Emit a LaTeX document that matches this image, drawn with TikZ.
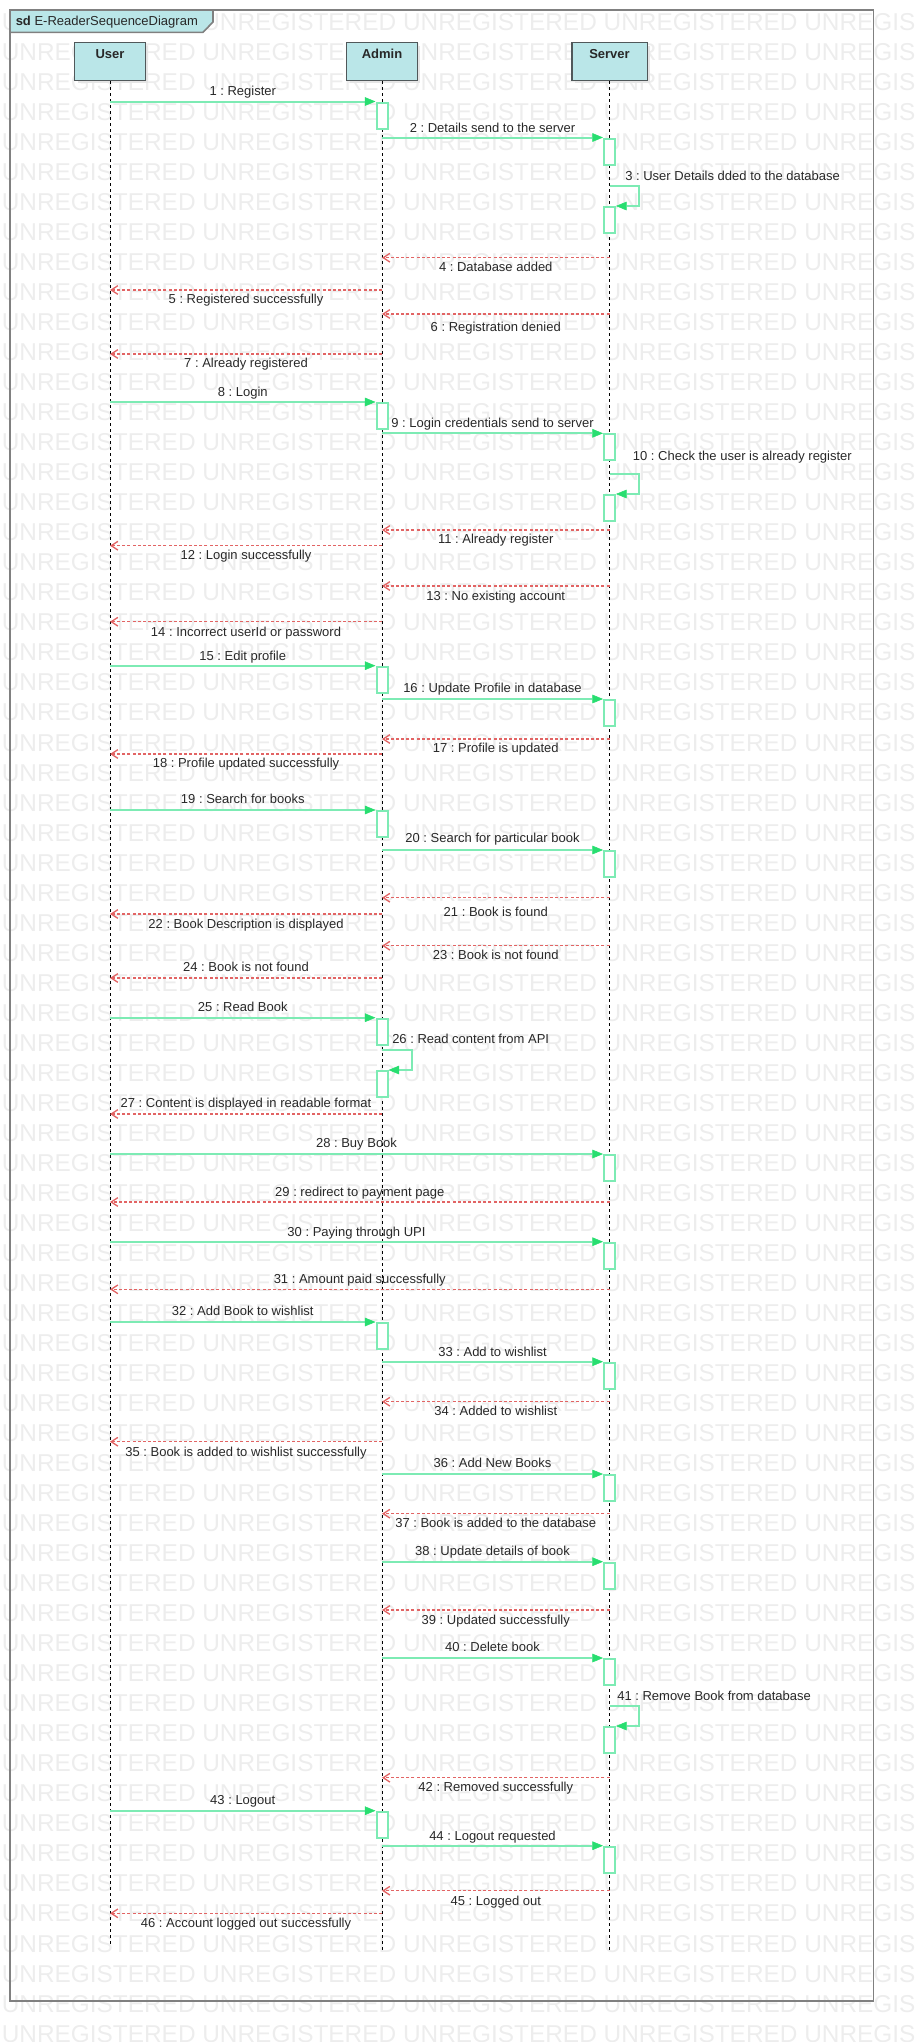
\documentclass[tikz,border=0pt]{standalone}
\usepackage{fontspec}
\setmainfont{Liberation Sans}
\usetikzlibrary{arrows.meta,calc,shadows}
\frenchspacing
\definecolor{mint}{RGB}{125,235,180}
\definecolor{tipgreen}{RGB}{40,222,112}
\definecolor{retred}{RGB}{226,100,100}
\definecolor{hdrfill}{RGB}{186,230,232}
\definecolor{hdrline}{RGB}{80,88,90}
\definecolor{framegray}{RGB}{128,128,128}
\definecolor{wmgray}{RGB}{237,237,237}
\definecolor{txt}{RGB}{40,40,40}
\tikzset{
  hdr/.style={draw=hdrline, line width=1.1pt, fill=hdrfill, anchor=north,
    minimum width=53pt, minimum height=28.15pt, inner sep=0pt,
    text height=7.5pt, text depth=11.8pt, text=txt,
    font=\bfseries\fontsize{9.75pt}{11pt}\selectfont,
    drop shadow={shadow xshift=2.25pt, shadow yshift=-2.25pt, fill=black!10, opacity=1}},
  lifeline/.style={draw=black, line width=0.75pt, dash pattern=on 2.25pt off 2.25pt},
  act/.style={draw=mint, fill=white, line width=1.5pt, minimum width=8.25pt,
    minimum height=19.5pt, inner sep=0pt, anchor=north},
  msg/.style={draw=mint, line width=1.5pt,
    -{Triangle[length=8pt,width=6.5pt,color=tipgreen,line width=0.4pt]}},
  ret/.style={draw=retred, line width=1pt, dash pattern=on 2.25pt off 1.6pt,
    -{Straight Barb[length=5pt,width=6.5pt,line width=1pt]}},
  lbl/.style={inner sep=0pt, text height=7pt, text depth=0pt, text=txt,
    font=\fontsize{9.75pt}{11pt}\selectfont},
  wm/.style={inner sep=0pt, text=wmgray, font=\fontsize{18.3pt}{20pt}\selectfont,
    anchor=base west},
}
\newcommand\SyncMsg[6]{%
  \node[act] (m#1) at (#3 |- 0,#4) {};
  \draw[msg] (#2 |- 0,#4) -- (m#1.north west);
  \node[lbl] (t#1) at ($(#2 |- 0,#5)!.5!(m#1.north west |- 0,#5)$) {#6};
}
\newcommand\RetMsg[6]{%
  \draw[ret] (#2 |- 0,#4) -- (#3 |- 0,#4);
  \node[lbl] (t#1) at ($(#2 |- 0,#5)!.5!(#3 |- 0,#5)$) {#6};
}
\newcommand\SelfMsg[7]{%
  \node[act] (m#1) at (#2 |- 0,#4) {};
  \draw[msg] (#2 |- 0,#3) -- ++(29.5,0) |- (m#1.north east);
  \node[lbl, anchor=west] (t#1) at (#5,#6) {#7};
}
\begin{document}
\begin{tikzpicture}[x=0.75pt,y=-0.75pt]
\useasboundingbox (0,0) rectangle (914,2042);
% watermark
\begin{scope}
  \clip (0,0) rectangle (914,2042);
  \foreach \k in {0,...,67}
    \node[wm] (w\k) at (1.5,{30.4+30.025*\k}) {UNREGISTERED UNREGISTERED UNREGISTERED UNREGISTERED UNREGISTERED};
\end{scope}
% frame
\draw[framegray, line width=1.2pt] (10,10) rectangle (873.5,2001);
\draw[framegray, line width=1.2pt, fill=hdrfill] (10,10) -- (213,10) -- (213,22) -- (203,32.3) -- (10,32.3) -- cycle;
\node[anchor=base west, inner sep=0pt, text=txt, font=\fontsize{9.75pt}{11pt}\selectfont] (title) at (15.5,25.3) {\textbf{sd} E-ReaderSequenceDiagram};
% lifeline heads
\node[hdr] (user) at (110,42) {User};
\node[hdr] (admin) at (382,42) {Admin};
\node[hdr, minimum width=56.6pt] (server) at (609.5,42) {Server};
% lifelines
\draw[lifeline] (user.south) -- (user |- 0,1945);
\draw[lifeline] (admin.south) -- (admin |- 0,1950);
\draw[lifeline] (server.south) -- (server |- 0,1950);
% messages
\SyncMsg{1}{user}{admin}{101.5}{91}{1 : Register}
\SyncMsg{2}{admin}{server}{137.5}{127.5}{2 : Details send to the server}
\SelfMsg{3}{server}{186}{206}{625}{175.5}{3 : User Details dded to the database}
\RetMsg{4}{server}{admin}{257.7}{267.3}{4 : Database added}
\RetMsg{5}{admin}{user}{290}{299.3}{5 : Registered successfully}
\RetMsg{6}{server}{admin}{314}{326.7}{6 : Registration denied}
\RetMsg{7}{admin}{user}{354}{363.3}{7 : Already registered}
\SyncMsg{8}{user}{admin}{402}{391.7}{8 : Login}
\SyncMsg{9}{admin}{server}{433.3}{423.3}{9 : Login credentials send to server}
\SelfMsg{10}{server}{474}{494}{632.6}{455.7}{10 : Check the user is already register}
\RetMsg{11}{server}{admin}{530}{539.3}{11 : Already register}
\RetMsg{12}{admin}{user}{545.7}{555.3}{12 : Login successfully}
\RetMsg{13}{server}{admin}{586}{595.7}{13 : No existing account}
\RetMsg{14}{admin}{user}{621.7}{631.7}{14 : Incorrect userId or password}
\SyncMsg{15}{user}{admin}{665.7}{655.7}{15 : Edit profile}
\SyncMsg{16}{admin}{server}{699}{688.3}{16 : Update Profile in database}
\RetMsg{17}{server}{admin}{739}{748.3}{17 : Profile is updated}
\RetMsg{18}{admin}{user}{754}{763.3}{18 : Profile updated successfully}
\SyncMsg{19}{user}{admin}{810}{799.3}{19 : Search for books}
\SyncMsg{20}{admin}{server}{850}{837.7}{20 : Search for particular book}
\RetMsg{21}{server}{admin}{897.7}{911.7}{21 : Book is found}
\RetMsg{22}{admin}{user}{914}{923.7}{22 : Book Description is displayed}
\RetMsg{23}{server}{admin}{945.7}{955.3}{23 : Book is not found}
\RetMsg{24}{admin}{user}{978}{966.7}{24 : Book is not found}
\SyncMsg{25}{user}{admin}{1017.7}{1007.3}{25 : Read Book}
\SelfMsg{26}{admin}{1050}{1070}{392}{1039.3}{26 : Read content from API}
\RetMsg{27}{admin}{user}{1114}{1102.7}{27 : Content is displayed in readable format}
\SyncMsg{28}{user}{server}{1154}{1143.3}{28 : Buy Book}
\RetMsg{29}{server}{user}{1202}{1191.7}{29 : redirect to payment page}
\SyncMsg{30}{user}{server}{1241.7}{1231.7}{30 : Paying through UPI}
\RetMsg{31}{server}{user}{1289.3}{1278.7}{31 : Amount paid successfully}
\SyncMsg{32}{user}{admin}{1322}{1311.3}{32 : Add Book to wishlist}
\SyncMsg{33}{admin}{server}{1361.7}{1351.7}{33 : Add to wishlist}
\RetMsg{34}{server}{admin}{1401.7}{1411.3}{34 : Added to wishlist}
\RetMsg{35}{admin}{user}{1441.7}{1451.7}{35 : Book is added to wishlist successfully}
\SyncMsg{36}{admin}{server}{1474}{1463.3}{36 : Add New Books}
\RetMsg{37}{server}{admin}{1513.7}{1523.3}{37 : Book is added to the database}
\SyncMsg{38}{admin}{server}{1561.7}{1551}{38 : Update details of book}
\RetMsg{39}{server}{admin}{1610}{1619.7}{39 : Updated successfully}
\SyncMsg{40}{admin}{server}{1658}{1647.3}{40 : Delete book}
\SelfMsg{41}{server}{1706}{1726}{617}{1695.7}{41 : Remove Book from database}
\RetMsg{42}{server}{admin}{1777.7}{1787.3}{42 : Removed successfully}
\SyncMsg{43}{user}{admin}{1810.7}{1800}{43 : Logout}
\SyncMsg{44}{admin}{server}{1845.7}{1835.7}{44 : Logout requested}
\RetMsg{45}{server}{admin}{1890.7}{1900.7}{45 : Logged out}
\RetMsg{46}{admin}{user}{1913.3}{1923.3}{46 : Account logged out successfully}
\end{tikzpicture}
\end{document}
